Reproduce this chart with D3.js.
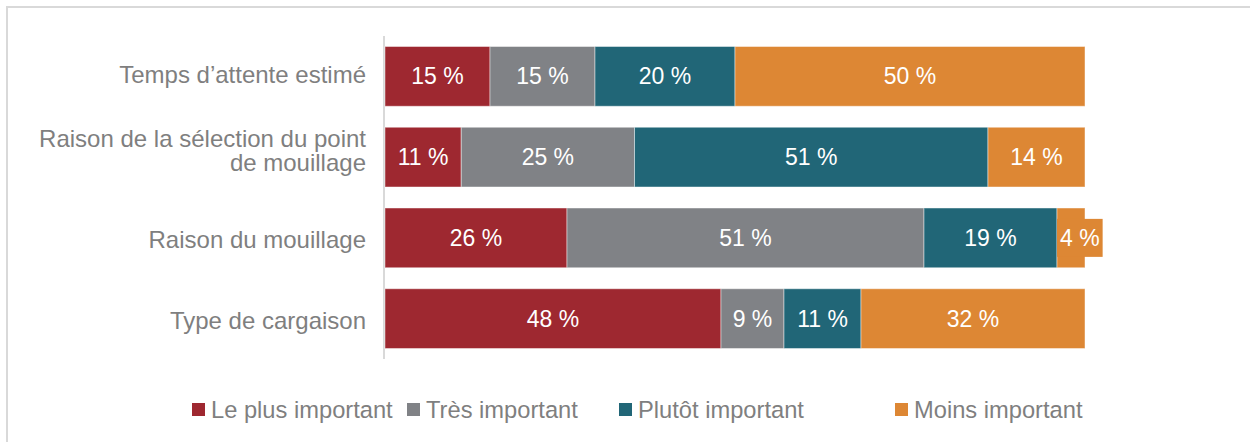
<!DOCTYPE html>
<html>
<head>
<meta charset="utf-8">
<script src="https://cdn.jsdelivr.net/npm/d3@7"></script>
<style>
  html, body { margin: 0; padding: 0; background: #fff; }
  svg { display: block; }
  text { font-family: "Liberation Sans", Arial, sans-serif; }
</style>
</head>
<body>
<svg id="chart" width="1250" height="442"></svg>
<script>
// Categories (top to bottom); "\n" marks a line break in the axis label
const categories = [
  "Temps d’attente estimé",
  "Raison de la sélection du point\nde mouillage",
  "Raison du mouillage",
  "Type de cargaison"
];
const seriesNames = ["Le plus important", "Très important", "Plutôt important", "Moins important"];
const lePlusImportant = [15, 11, 26, 48];
const tresImportant = [15, 25, 51, 9];
const plutotImportant = [20, 51, 19, 11];
const moinsImportant = [50, 14, 4, 32];

const colors = ["#9E2830", "#808286", "#216677", "#DD8734"];
const legendX = [192, 407, 619, 895];

const svg = d3.select("#chart");
const W = 1250, H = 442;

// Frame: light border on top and left edges
svg.append("path")
  .attr("d", `M7,${H} V7 H${W}`)
  .attr("fill", "none")
  .attr("stroke", "#d9d9d9")
  .attr("stroke-width", 2);

const rows = categories.map((c, i) => ({
  category: c,
  [seriesNames[0]]: lePlusImportant[i],
  [seriesNames[1]]: tresImportant[i],
  [seriesNames[2]]: plutotImportant[i],
  [seriesNames[3]]: moinsImportant[i]
}));

const stack = d3.stack().keys(seriesNames).offset(d3.stackOffsetExpand);
const layers = stack(rows);

const x = d3.scaleLinear().domain([0, 1]).range([385, 1085]);
const y = d3.scaleBand().domain(categories).range([36, 359])
  .paddingInner(0.26).paddingOuter(0.13);
const color = d3.scaleOrdinal().domain(seriesNames).range(colors);

// Category axis line
svg.append("line")
  .attr("x1", 384).attr("x2", 384)
  .attr("y1", 36).attr("y2", 359)
  .attr("stroke", "#d9d9d9").attr("stroke-width", 2);

// Category labels
const catG = svg.append("g");
categories.forEach((c, i) => {
  const lines = c.split("\n");
  const cy = y(c) + y.bandwidth() / 2;
  const lh = 24.5;
  const first = cy + 7 + (i >= 2 ? 3 : 0) - (lines.length - 1) * (lh / 2 + 5);
  const t = catG.append("text")
    .attr("text-anchor", "end")
    .attr("fill", "#7f7f7f")
    .style("font-size", "24px");
  lines.forEach((ln, k) => {
    t.append("tspan").attr("x", 366).attr("y", first + k * lh).text(ln);
  });
});

// Stacked bars
const layerG = svg.append("g").selectAll("g")
  .data(layers).join("g")
  .attr("fill", d => color(d.key));

layerG.selectAll("rect")
  .data(d => d.map(p => ({ p, key: d.key })))
  .join("rect")
  .attr("x", d => x(d.p[0]))
  .attr("y", d => y(d.p.data.category))
  .attr("width", d => x(d.p[1]) - x(d.p[0]))
  .attr("height", y.bandwidth())
  .attr("stroke", "rgba(255,255,255,0.45)")
  .attr("stroke-width", 1);

// Value labels
const labelG = svg.append("g");
layers.forEach(layer => {
  layer.forEach(p => {
    const x0 = x(p[0]), x1 = x(p[1]);
    const cy = y(p.data.category) + y.bandwidth() / 2;
    const g = labelG.append("g");
    const t = g.append("text")
      .attr("text-anchor", "middle")
      .attr("fill", "#fff")
      .style("font-size", "23px")
      .text(p.data[layer.key] + " %");
    const tw = t.node().getComputedTextLength();
    if (tw + 4 > x1 - x0) {
      // Label wider than its segment: draw it on a box of the segment colour
      const bw = tw + 6, bh = 38;
      g.insert("rect", "text")
        .attr("x", x0).attr("y", cy - bh / 2)
        .attr("width", bw).attr("height", bh)
        .attr("fill", color(layer.key));
      t.attr("x", x0 + bw / 2).attr("y", cy + 8);
    } else {
      t.attr("x", (x0 + x1) / 2).attr("y", cy + 8);
    }
  });
});

// Legend
const legG = svg.append("g");
seriesNames.forEach((s, i) => {
  legG.append("rect")
    .attr("x", legendX[i]).attr("y", 403)
    .attr("width", 13).attr("height", 13)
    .attr("fill", color(s));
  legG.append("text")
    .attr("x", legendX[i] + 19).attr("y", 418)
    .attr("fill", "#7f7f7f")
    .style("font-size", "23.7px")
    .text(s);
});
</script>
</body>
</html>
